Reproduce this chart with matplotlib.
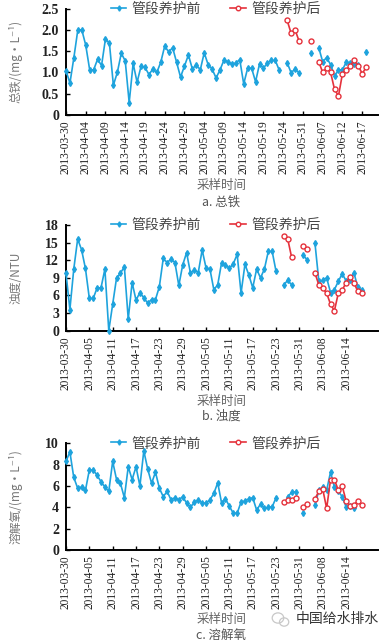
import numpy as np
import matplotlib
matplotlib.use("Agg")
import matplotlib.pyplot as plt
from matplotlib.patches import Ellipse

nan = np.nan

# Colors / fonts
BLUE = "#1ea3dd"
RED = "#e5323c"
CJK = ["Noto Sans CJK SC", "DejaVu Sans"]
SERIF = ["Liberation Serif", "DejaVu Serif"]

LEGEND_BEFORE = "管段养护前"
LEGEND_AFTER = "管段养护后"
XLABEL = "采样时间"

# Tick labels (panel a every 5 samples, panels b/c every 6 samples)
ticks_a = ["2013-03-30", "2013-04-04", "2013-04-09", "2013-04-14", "2013-04-19",
           "2013-04-24", "2013-04-29", "2013-05-04", "2013-05-09", "2013-05-14",
           "2013-05-19", "2013-05-24", "2013-05-31", "2013-06-07", "2013-06-12",
           "2013-06-17"]
ticks_bc = ["2013-03-30", "2013-04-05", "2013-04-11", "2013-04-17", "2013-04-23",
            "2013-04-29", "2013-05-05", "2013-05-11", "2013-05-17", "2013-05-23",
            "2013-05-31", "2013-06-08", "2013-06-14"]

# a. total iron (mg/L)
iron_before = [1.04, 0.75, 1.35, 2.0, 2.0, 1.64, 1.06, 1.06, 1.31, 1.16,
               1.79, 1.68, 0.70, 1.0, 1.45, 1.27, 0.29, 1.21, 0.77, 1.14,
               1.12, 0.95, 1.08, 1.0, 1.24, 1.62, 1.48, 1.58, 1.24, 0.89,
               1.15, 1.41, 1.08, 1.18, 1.06, 1.46, 1.18, 1.08, 0.87, 1.06,
               1.29, 1.25, 1.2, 1.22, 1.3, 0.73, 1.1, 1.1, 0.78, 1.2,
               1.1, 1.22, 1.28, 1.28, 1.05, nan, 1.23, 0.99, 1.08, 0.99,
               nan, nan, 1.45, nan, 1.58, 1.25, 1.35, 1.18, 0.92, 1.06,
               1.06, 1.25, 1.22, 1.2, 1.18, nan, 1.47]
iron_after = [nan] * 56 + [2.22, 1.92, 2.0, 1.74, nan, nan, 1.74, nan, 1.25, 1.0,
                           1.1, 1.0, 0.6, 0.45, 0.97, 1.06, 1.16, 1.29, 1.16, 0.97,
                           1.12]

# b. turbidity (NTU)
turb_before = [9.8, 3.6, 10.5, 15.6, 13.8, 10.6, 5.5, 5.5, 7.3, 7.3,
               10.5, 0.0, 4.5, 9.0, 9.8, 10.9, 2.0, 8.2, 5.2, 6.5,
               5.6, 4.7, 5.3, 5.3, 7.5, 12.3, 11.6, 12.2, 11.6, 7.7,
               11.2, 13.3, 9.8, 10.3, 9.9, 13.75, 10.7, 10.5, 7.0, 7.8,
               11.6, 11.2, 10.6, 11.4, 13.0, 6.4, 11.3, 9.5, 7.3, 10.5,
               9.0, 10.5, 13.5, 13.5, 10.1, nan, 7.8, 8.6, 7.8, nan,
               nan, 12.9, 12.0, nan, 14.9, 8.4, 8.6, 9.0, 6.5, 7.0,
               8.4, 9.7, 8.5, 8.6, 9.9, 7.4, 6.9]
turb_after = [nan] * 56 + [16.1, 15.6, 12.5, nan, nan, 14.4, 13.9, nan, 9.8, 7.8,
                           7.2, 6.4, 4.5, 3.4, 6.4, 6.9, 8.2, 9.2, 8.2, 6.7,
                           6.5]

# c. dissolved oxygen (mg/L)
do_before = [8.3, 9.2, 6.8, 5.8, 5.9, 5.6, 7.5, 7.5, 7.0, 6.4,
             5.9, 5.5, 8.3, 6.6, 6.25, 4.9, 7.8, 6.6, 7.8, 6.0,
             9.3, 7.6, 6.25, 7.3, 5.8, 5.0, 5.5, 4.7, 4.9, 4.7,
             5.0, 4.4, 4.0, 4.5, 4.7, 4.4, 4.4, 4.7, 5.3, 6.3,
             4.4, 4.8, 4.1, 3.45, 3.45, 4.5, 4.6, 4.8, 4.9, 3.75,
             4.3, 3.9, 4.0, 4.05, 4.9, nan, nan, 5.0, 5.4, 5.45,
             nan, 3.5, nan, nan, 4.2, 5.6, 5.9, 5.6, 7.3, 5.9,
             5.5, 5.0, 4.05, 4.1, 3.9, nan, nan]
do_after = [nan] * 56 + [4.5, 4.7, 4.7, 4.9, nan, 4.0, 4.3, nan, 4.8, 5.5,
                         5.7, 3.9, 6.6, 6.6, 5.6, 6.0, 4.6, 4.1, 4.2, 4.6,
                         4.2]


def draw_panel(ax, before, after, ylim, ystep, yfmt, ylabel, tick_labels, tick_every, xmax):
    x = np.arange(len(before))
    ax.plot(x, before, color=BLUE, lw=1.2, marker="d", ms=3.0, mfc=BLUE, mec=BLUE,
            label=LEGEND_BEFORE, zorder=3, clip_on=False)
    ax.plot(x, after, color=RED, lw=1.2, marker="o", ms=3.6, mfc="white", mec=RED,
            mew=1.0, label=LEGEND_AFTER, zorder=4, clip_on=False)

    ax.set_xlim(0, xmax)
    ax.set_ylim(*ylim)
    yt = np.arange(ylim[0], ylim[1] + ystep / 2, ystep)
    ax.set_yticks(yt)
    ax.set_yticklabels(["0"] + [yfmt.format(v) for v in yt[1:]],
                       fontfamily=SERIF, fontweight="bold", fontsize=10, color="#222")
    ax.set_xticks(np.arange(len(tick_labels)) * tick_every)
    ax.set_xticklabels(tick_labels, rotation=90, fontfamily=SERIF, fontsize=8.3, color="#222")

    for s in ["top", "right"]:
        ax.spines[s].set_visible(False)
    for s in ["left", "bottom"]:
        ax.spines[s].set_linewidth(1.4)
    ax.tick_params(direction="in", length=3, width=1)
    ax.tick_params(axis="x", pad=4)
    ax.tick_params(axis="y", pad=5)

    ax.set_ylabel(ylabel, fontfamily=CJK, fontsize=8.5, color="#777")
    ax.yaxis.set_label_coords(-0.14, 0.5)

    leg = ax.legend(loc="center", bbox_to_anchor=(0.48, 1.0), ncol=2, frameon=False,
                    prop={"family": CJK, "size": 10}, handlelength=1.1,
                    columnspacing=2.1, handletextpad=0.4, markerscale=0.9)
    for t in leg.get_texts():
        t.set_color("#444")


fig = plt.figure(figsize=(3.85, 6.4), dpi=100)

ax_a = fig.add_axes([0.1714, 0.8203, 0.8104, 0.1664])
draw_panel(ax_a, iron_before, iron_after, (0, 2.5), 0.5, "{:.1f}",
           "总铁/(mg·L⁻¹)", ticks_a, 5, 79)

ax_b = fig.add_axes([0.1714, 0.4833, 0.8104, 0.1651])
draw_panel(ax_b, turb_before, turb_after, (0, 18), 3, "{:.0f}",
           "浊度/NTU", ticks_bc, 6, 80.2)

ax_c = fig.add_axes([0.1714, 0.1406, 0.8104, 0.1667])
draw_panel(ax_c, do_before, do_after, (0, 10), 2, "{:.0f}",
           "溶解氧/(mg·L⁻¹)", ticks_bc, 6, 80.2)

# x labels and panel captions (pixel y from top -> figure fraction)
def caption(ypix, text, size=9, color="#666"):
    fig.text(0.575, 1 - ypix / 640, text, ha="center", va="center",
             fontfamily=CJK, fontsize=size, color=color)

caption(186, XLABEL)
caption(202, "a. 总铁", color="#555")
caption(401, XLABEL)
caption(416, "b. 浊度", color="#555")
caption(620, XLABEL)
caption(635, "c. 溶解氧", color="#555")

# watermark (light logo + text)
for cx, cy, w, h in [(0.722, 1 - 618 / 640, 0.030, 0.016), (0.738, 1 - 622 / 640, 0.024, 0.013)]:
    fig.patches.append(Ellipse((cx, cy), w, h, transform=fig.transFigure,
                               fill=False, ec="#c8c8c8", lw=0.9))
fig.text(0.875, 1 - 619 / 640, "中国给水排水", ha="center", va="center",
         fontfamily=CJK, fontsize=10, color="#333")

fig.savefig("out.png", dpi=100)
